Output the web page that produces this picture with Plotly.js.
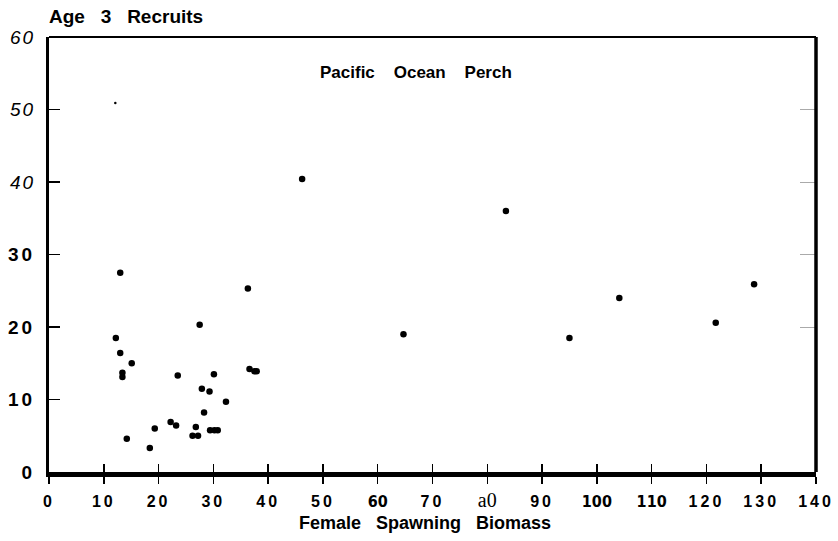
<!DOCTYPE html>
<html>
<head>
<meta charset="utf-8">
<script src="https://cdn.plot.ly/plotly-3.0.1.min.js"></script>
<style>
  html, body { margin: 0; padding: 0; background: #fff; }
  #chart { width: 838px; height: 541px; }
</style>
</head>
<body>
<div id="chart"></div>
<script>
// Female spawning biomass vs. age-3 recruits, Pacific ocean perch
const biomass = [13.0, 12.2, 13.0, 15.1, 13.4, 13.4, 14.2, 18.4, 19.3, 22.2,
                 23.2, 23.5, 26.8, 26.2, 27.2, 27.5, 27.9, 28.3, 29.3, 30.1,
                 29.4, 30.2, 30.8, 32.3, 36.3, 36.6, 37.5, 37.9, 46.2, 64.7,
                 83.4, 95.0, 104.1, 121.7, 128.7];
const recruits = [27.5, 18.5, 16.4, 15.0, 13.7, 13.1, 4.6, 3.3, 6.0, 6.9,
                  6.4, 13.3, 6.2, 5.0, 5.0, 20.3, 11.5, 8.2, 11.1, 13.5,
                  5.75, 5.75, 5.75, 9.7, 25.3, 14.2, 13.9, 13.9, 40.4, 19.0,
                  36.0, 18.5, 24.0, 20.6, 25.9];

// faint stray point near the top of the plot
const strayX = [12.1];
const strayY = [50.9];

// axis ticks
const xTickVals = [0, 10, 20, 30, 40, 50, 60, 70, 80, 90, 100, 110, 120, 130, 140];
const xTickLabels = ['0', '10', '20', '30', '40', '50', '60', '70', 'a0', '90', '100', '110', '120', '130', '140'];
const yTickVals = [0, 10, 20, 30, 40, 50, 60];
const yTickLabels = ['0', '10', '20', '30', '40', '50', '60'];
const rightTickVals = [20, 30, 40, 50];

const FONT = 'Liberation Sans, Arial, Helvetica, sans-serif';
const NB = '\u00a0';
const gap = n => NB.repeat(n);
const spaced = (t, px) => '<span style="letter-spacing:' + px + 'px">' + t + '</span>';

// typewriter-style labels: spaced digits, a few heavier ones, one in serif
const heavyX = new Set(['60', '100', '110']);
const xTickText = xTickLabels.map(t => {
  if (t === 'a0') return '<span style="font-family:Liberation Serif, serif;font-size:20px">' + t + '</span>';
  if (heavyX.has(t)) return '<span style="font-family:DejaVu Sans Condensed, sans-serif;font-size:16px"><b>' + t + '</b></span>';
  return '<b>' + spaced(t, 3) + '</b>';
});
const yTickText = yTickLabels.map((t, i) =>
  yTickVals[i] >= 40 ? '<i>' + spaced(t, 2) + '</i>' : '<b>' + spaced(t, 3) + '</b>');

const traces = [
  {
    type: 'scatter', mode: 'markers',
    x: biomass, y: recruits,
    marker: { symbol: 'circle', size: 6.5, color: '#000' },
    hoverinfo: 'x+y', showlegend: false
  },
  {
    type: 'scatter', mode: 'markers',
    x: strayX, y: strayY,
    marker: { symbol: 'circle', size: 2.5, color: '#000' },
    hoverinfo: 'skip', showlegend: false
  }
];

const layout = {
  width: 838, height: 541,
  margin: { l: 49, r: 22, t: 37, b: 69, pad: 0 },
  paper_bgcolor: '#fff', plot_bgcolor: '#fff',
  font: { family: FONT, color: '#000' },
  showlegend: false,
  xaxis: {
    range: [0, 140], showgrid: false, zeroline: false,
    showline: true, linecolor: '#000', linewidth: 5,
    ticks: 'outside', ticklen: 7, tickwidth: 1.5, tickcolor: '#000',
    tickvals: xTickVals, ticktext: xTickText,
    tickfont: { family: FONT, size: 16, color: '#000' },
    ticklabelstandoff: 4
  },
  xaxis2: {
    overlaying: 'x', matches: 'x', range: [0, 140],
    showgrid: false, zeroline: false, showline: false,
    ticks: 'inside', ticklen: 8, tickwidth: 1.5, tickcolor: '#000',
    tickvals: xTickVals, showticklabels: false
  },
  yaxis: {
    range: [0, 60], showgrid: false, zeroline: false,
    showline: true, linecolor: '#000', linewidth: 3,
    ticks: 'inside', ticklen: 11, tickwidth: 1.5, tickcolor: '#000',
    tickvals: yTickVals, ticktext: yTickText,
    tickfont: { family: FONT, size: 19, color: '#000' },
    ticklabelstandoff: 7
  },
  yaxis2: {
    overlaying: 'y', matches: 'y', side: 'right', range: [0, 60],
    showgrid: false, zeroline: false, showline: false,
    ticks: 'inside', ticklen: 16, tickwidth: 1, tickcolor: '#aaa',
    tickvals: rightTickVals, showticklabels: false
  },
  shapes: [
    // top and right frame lines
    { type: 'line', xref: 'paper', yref: 'paper', x0: 0, x1: 1, y0: 1, y1: 1, line: { color: '#000', width: 2 } },
    { type: 'line', xref: 'paper', yref: 'paper', x0: 1, x1: 1, y0: 0, y1: 1, line: { color: '#000', width: 3.5 } }
  ],
  annotations: [
    {
      text: '<b>Age' + gap(3) + '3' + gap(3) + 'Recruits</b>', xref: 'paper', yref: 'paper',
      x: -0.002, y: 1.0, xanchor: 'left', yanchor: 'bottom', yshift: 8, showarrow: false,
      font: { family: FONT, size: 19, color: '#000' }
    },
    {
      text: '<b>Pacific' + gap(4) + 'Ocean' + gap(4) + 'Perch</b>', xref: 'paper', yref: 'paper',
      x: 0.479, y: 0.918, xanchor: 'center', yanchor: 'middle', showarrow: false,
      font: { family: FONT, size: 17, color: '#000' }
    },
    {
      text: '<b>Female' + gap(3) + 'Spawning' + gap(3) + 'Biomass</b>', xref: 'paper', yref: 'paper',
      x: 0.49, y: -0.118, xanchor: 'center', yanchor: 'middle', showarrow: false,
      font: { family: FONT, size: 18, color: '#000' }
    }
  ]
};

// attach the inside-tick overlay axes with an empty trace
traces.push({ type: 'scatter', x: [], y: [], xaxis: 'x2', yaxis: 'y2', hoverinfo: 'skip', showlegend: false });

Plotly.newPlot('chart', traces, layout, { staticPlot: true, displayModeBar: false });
</script>
</body>
</html>
